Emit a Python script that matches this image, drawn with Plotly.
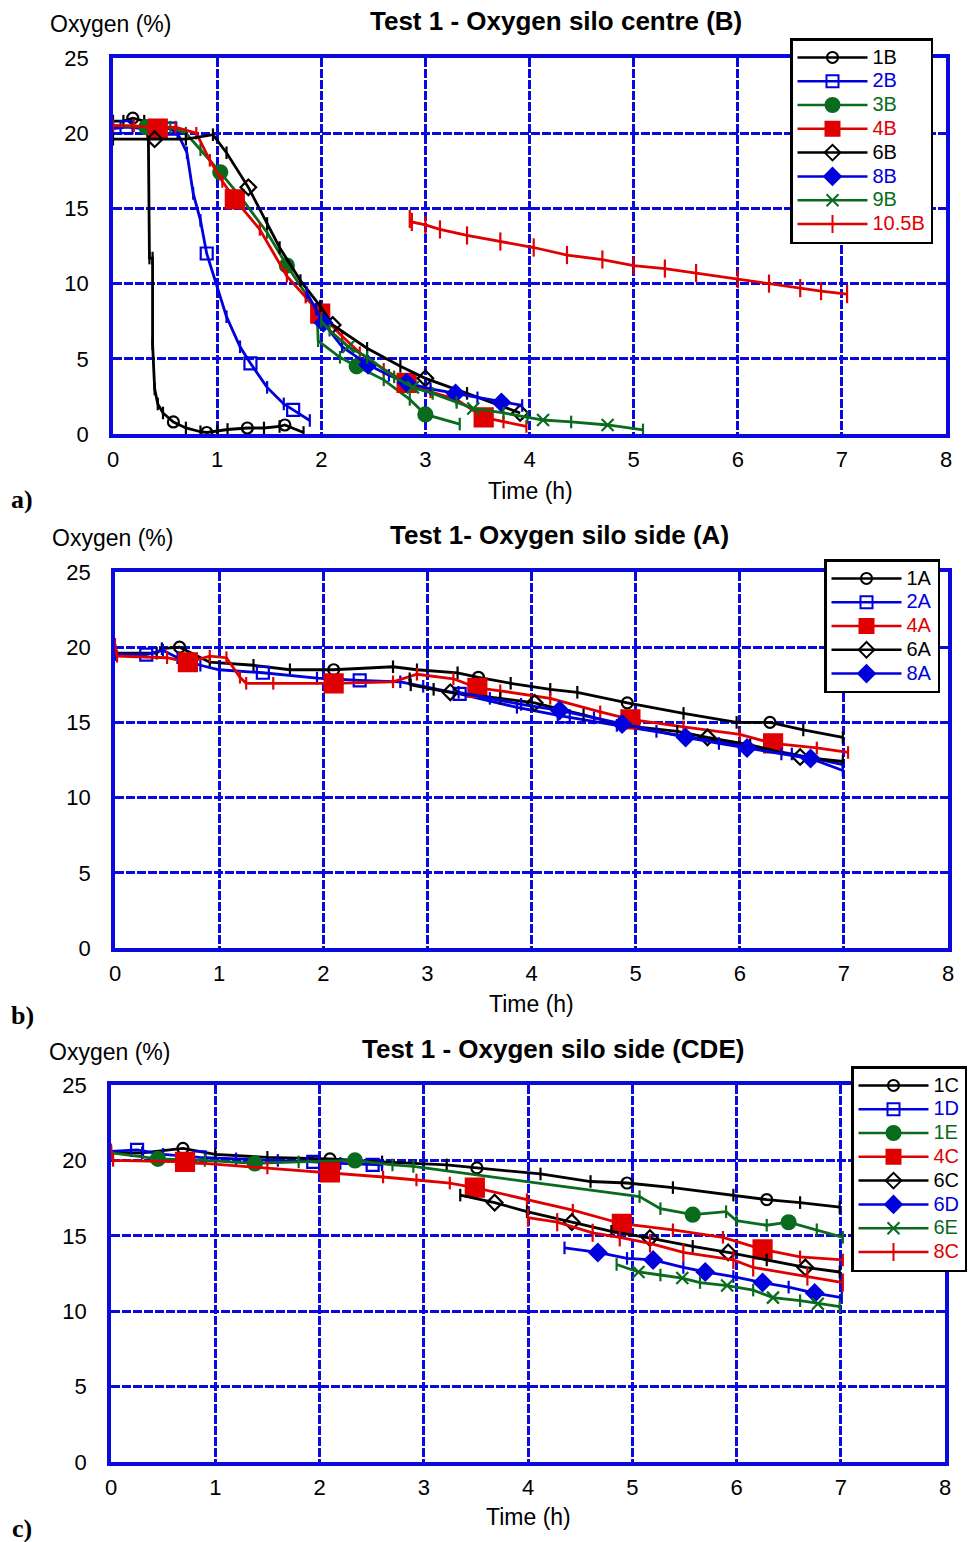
import plotly.graph_objects as go

W, H = 975, 1542

BLACK = "#000000"
BLUE = "#0000dc"
GREEN = "#0a6b1e"
RED = "#e00000"
GRID = "#0a0ae0"

# ---------------- Test 1 - silo centre (B) ----------------
t_1B = [0, 0.1, 0.19, 0.3, 0.34, 0.35, 0.38, 0.38, 0.40, 0.43, 0.48, 0.58, 0.7, 0.84, 0.9, 1.0, 1.1, 1.29, 1.45, 1.6, 1.65, 1.83]
o_1B = [20.8, 20.8, 21.0, 20.8, 19.6, 11.7, 11.7, 6.0, 3.0, 2.0, 1.4, 0.8, 0.4, 0.15, 0.1, 0.2, 0.3, 0.4, 0.4, 0.5, 0.6, 0.1]
t_2B = [0, 0.13, 0.3, 0.55, 0.62, 0.71, 0.77, 0.84, 0.9, 1.0, 1.09, 1.22, 1.32, 1.48, 1.64, 1.73, 1.89]
o_2B = [20.3, 20.4, 20.3, 20.3, 20.0, 18.7, 16.0, 14.2, 12.0, 9.8, 7.8, 5.8, 4.7, 3.1, 2.0, 1.6, 0.9]
t_3B = [0, 0.32, 0.55, 0.7, 0.84, 1.03, 1.22, 1.48, 1.67, 1.86, 1.96, 1.97, 2.18, 2.34, 2.6, 2.85, 3.0, 3.33]
o_3B = [20.5, 20.4, 20.4, 20.0, 18.9, 17.4, 15.8, 13.4, 11.2, 9.2, 8.2, 6.2, 5.1, 4.5, 3.6, 2.3, 1.3, 0.66]
t_4B = [0, 0.2, 0.43, 0.6, 0.8, 0.93, 1.05, 1.17, 1.41, 1.67, 1.85, 1.99, 2.2, 2.37, 2.6, 2.82, 3.05, 3.3, 3.56, 3.75, 3.97]
o_4B = [20.5, 20.5, 20.3, 20.4, 20.0, 18.2, 16.8, 15.6, 13.6, 10.5, 9.1, 8.0, 6.5, 5.4, 4.3, 3.4, 2.8, 2.3, 1.1, 0.8, 0.5]
t_6B = [0, 0.4, 0.7, 0.96, 1.09, 1.3, 1.48, 1.6, 1.8, 1.99, 2.11, 2.44, 2.76, 3.0, 3.4, 3.91]
o_6B = [19.6, 19.6, 19.6, 19.9, 18.7, 16.4, 14.0, 12.4, 10.2, 8.5, 7.25, 5.7, 4.5, 3.7, 2.7, 1.4]
t_8B = [1.86, 1.95, 2.02, 2.2, 2.45, 2.65, 2.82, 3.05, 3.29, 3.5, 3.73, 3.93]
o_8B = [9.4, 8.3, 7.4, 5.8, 4.6, 3.9, 3.4, 3.0, 2.7, 2.4, 2.1, 1.9]
t_9B = [2.0, 2.08, 2.26, 2.44, 2.7, 2.88, 3.07, 3.3, 3.46, 3.75, 3.98, 4.13, 4.4, 4.75, 5.09]
o_9B = [7.5, 6.9, 5.8, 5.1, 3.8, 3.1, 2.7, 2.1, 1.7, 1.4, 1.1, 0.93, 0.8, 0.6, 0.27]
t_10_5B = [2.85, 2.87, 3.0, 3.14, 3.4, 3.72, 4.04, 4.36, 4.7, 5.0, 5.3, 5.6, 6.0, 6.3, 6.6, 6.8, 7.05]
o_10_5B = [14.3, 14.1, 13.9, 13.6, 13.2, 12.8, 12.4, 11.9, 11.6, 11.2, 11.0, 10.7, 10.3, 10.0, 9.7, 9.5, 9.3]

# ---------------- Test 1 - silo side (A) ----------------
t_1A = [0, 0.4, 0.45, 0.62, 0.91, 1.33, 1.68, 2.1, 2.67, 2.9, 3.29, 3.49, 3.8, 4.18, 4.44, 4.92, 5.46, 5.97, 6.29, 6.61, 6.99]
o_1A = [19.6, 19.6, 19.9, 20.0, 19.0, 18.8, 18.5, 18.5, 18.7, 18.5, 18.3, 18.0, 17.6, 17.2, 17.0, 16.3, 15.6, 15.0, 15.0, 14.5, 14.0]
t_2A = [0, 0.3, 0.46, 0.6, 0.82, 1.0, 1.42, 1.94, 2.35, 2.74, 2.96, 3.31, 3.86, 4.31, 4.82, 5.46, 6.0, 6.5, 6.99]
o_2A = [19.5, 19.5, 19.8, 19.3, 18.8, 18.5, 18.3, 17.95, 17.8, 17.7, 17.4, 16.9, 16.0, 15.4, 14.8, 14.1, 13.5, 12.9, 12.2]
t_4A = [0, 0.02, 0.5, 0.7, 0.91, 1.07, 1.2, 1.26, 1.52, 2.1, 2.67, 2.9, 3.25, 3.48, 3.7, 4.18, 4.66, 4.95, 5.46, 6.0, 6.32, 6.74, 7.04]
o_4A = [20.2, 19.4, 19.3, 19.0, 19.4, 19.3, 18.0, 17.6, 17.6, 17.6, 17.7, 18.2, 17.9, 17.3, 17.1, 16.6, 15.7, 15.2, 14.7, 14.2, 13.6, 13.3, 13.0]
t_6A = [2.83, 2.84, 3.06, 3.22, 3.7, 4.03, 4.5, 4.88, 5.4, 5.69, 6.1, 6.58, 6.99]
o_6A = [17.9, 17.5, 17.2, 17.0, 16.6, 16.3, 15.5, 14.8, 14.4, 14.0, 13.5, 12.7, 12.4]
t_8A = [3.3, 3.6, 3.9, 4.27, 4.6, 4.87, 5.2, 5.48, 5.8, 6.07, 6.4, 6.68, 6.99]
o_8A = [17.0, 16.6, 16.2, 15.8, 15.3, 14.9, 14.4, 14.0, 13.6, 13.3, 12.9, 12.6, 11.8]

# ---------------- Test 1 - silo side (CDE) ----------------
t_1C = [0, 0.3, 0.69, 1.0, 1.5, 2.1, 2.6, 3.22, 3.51, 4.12, 4.6, 4.95, 5.39, 5.97, 6.29, 6.61, 6.99]
o_1C = [20.5, 20.5, 20.8, 20.4, 20.2, 20.1, 19.9, 19.7, 19.5, 19.1, 18.6, 18.5, 18.2, 17.7, 17.4, 17.2, 16.9]
t_1D = [0, 0.25, 0.5, 0.85, 1.2, 1.6, 1.94, 2.2, 2.51, 2.6]
o_1D = [20.6, 20.7, 20.4, 20.2, 20.1, 20.0, 19.9, 19.8, 19.7, 19.7]
t_1E = [0, 0.45, 0.9, 1.38, 1.8, 2.34, 2.7, 2.9, 5.07, 5.27, 5.58, 5.9, 6.0, 6.29, 6.5, 6.77, 7.02]
o_1E = [20.5, 20.1, 20.0, 19.8, 19.9, 20.0, 19.7, 19.6, 17.6, 16.8, 16.4, 16.6, 16.0, 15.7, 15.9, 15.4, 14.9]
t_4C = [0, 0.02, 0.71, 1.5, 2.1, 2.61, 2.93, 3.25, 3.49, 3.99, 4.43, 4.9, 5.39, 5.87, 6.25, 6.61, 7.02]
o_4C = [20.7, 20.0, 19.9, 19.5, 19.2, 18.9, 18.7, 18.5, 18.2, 17.4, 16.7, 15.8, 15.4, 14.9, 14.1, 13.6, 13.4]
t_6C = [3.35, 3.68, 3.99, 4.42, 4.8, 5.17, 5.58, 5.92, 6.29, 6.66, 6.99]
o_6C = [17.7, 17.2, 16.6, 15.9, 15.3, 14.85, 14.3, 13.9, 13.4, 12.9, 12.6]
t_6D = [4.35, 4.67, 4.95, 5.2, 5.49, 5.7, 5.97, 6.25, 6.5, 6.75, 7.01]
o_6D = [14.2, 13.9, 13.5, 13.4, 12.9, 12.6, 12.3, 11.9, 11.6, 11.2, 10.9]
t_6E = [4.85, 5.06, 5.27, 5.48, 5.65, 5.91, 6.16, 6.35, 6.61, 6.78, 6.99]
o_6E = [13.1, 12.6, 12.4, 12.2, 11.9, 11.7, 11.4, 10.9, 10.7, 10.5, 10.3]
t_8C = [4.0, 4.28, 4.62, 4.88, 5.17, 5.49, 5.97, 6.16, 6.68, 7.02]
o_8C = [16.2, 15.9, 15.2, 14.9, 14.5, 13.9, 13.4, 12.9, 12.3, 11.9]

x_ticks = [0, 1, 2, 3, 4, 5, 6, 7, 8]
y_ticks = [0, 5, 10, 15, 20, 25]

# series: label, times, values, colour, symbol, size, indices carrying the big symbol
panels = [
    dict(
        title="Test 1 - Oxygen silo centre (B)", tag="a)",
        box=(113, 946, 58, 434), legend_pos=(790, 38), title_pos=(556, 21),
        ylab_pos=(110, 24), xlab_pos=(530, 491), tag_pos=(22, 500),
        series=[
            ("1B", t_1B, o_1B, BLACK, "circle-open", 11, [2, 11, 14, 17, 20]),
            ("2B", t_2B, o_2B, BLUE, "square-open", 12, [1, 3, 8, 12, 15]),
            ("3B", t_3B, o_3B, GREEN, "circle", 14, [1, 5, 8, 13, 16]),
            ("4B", t_4B, o_4B, RED, "square", 18, [2, 7, 11, 15, 18]),
            ("6B", t_6B, o_6B, BLACK, "diamond-open", 12, [1, 5, 10, 13, 15]),
            ("8B", t_8B, o_8B, BLUE, "diamond", 13, [2, 4, 6, 8, 10]),
            ("9B", t_9B, o_9B, GREEN, "x-thin-open", 12, [2, 5, 8, 11, 13]),
            ("10.5B", t_10_5B, o_10_5B, RED, "line-ns-open", 13, None),
        ],
    ),
    dict(
        title="Test 1- Oxygen silo side (A)", tag="b)",
        box=(115, 948, 572, 948), legend_pos=(824, 559), title_pos=(559, 535),
        ylab_pos=(112, 538), xlab_pos=(531, 1004), tag_pos=(22, 1015),
        series=[
            ("1A", t_1A, o_1A, BLACK, "circle-open", 11, [3, 7, 11, 15, 18]),
            ("2A", t_2A, o_2A, BLUE, "square-open", 12, [1, 6, 8, 11, 13]),
            ("4A", t_4A, o_4A, RED, "square", 18, [3, 9, 13, 17, 20]),
            ("6A", t_6A, o_6A, BLACK, "diamond-open", 12, [3, 5, 9, 11]),
            ("8A", t_8A, o_8A, BLUE, "diamond", 13, [3, 5, 7, 9, 11]),
        ],
    ),
    dict(
        title="Test 1 - Oxygen silo side (CDE)", tag="c)",
        box=(111, 945, 1085, 1462), legend_pos=(851, 1066), title_pos=(553, 1049),
        ylab_pos=(109, 1052), xlab_pos=(528, 1517), tag_pos=(22, 1528),
        series=[
            ("1C", t_1C, o_1C, BLACK, "circle-open", 11, [2, 5, 8, 11, 14]),
            ("1D", t_1D, o_1D, BLUE, "square-open", 12, [1, 3, 6, 8]),
            ("1E", t_1E, o_1E, GREEN, "circle", 14, [1, 3, 5, 10, 14]),
            ("4C", t_4C, o_4C, RED, "square", 18, [2, 4, 8, 11, 14]),
            ("6C", t_6C, o_6C, BLACK, "diamond-open", 12, [1, 3, 5, 7, 9]),
            ("6D", t_6D, o_6D, BLUE, "diamond", 13, [1, 3, 5, 7, 9]),
            ("6E", t_6E, o_6E, GREEN, "x-thin-open", 12, [1, 3, 5, 7, 9]),
            ("8C", t_8C, o_8C, RED, "line-ns-open", 13, None),
        ],
    ),
]

SANS = "Liberation Sans, Arial, sans-serif"
SERIF = "Liberation Serif, Times New Roman, serif"


def px_x(px):
    return px / W


def px_y(py):
    return 1 - py / H


fig = go.Figure()
annotations = []
layout_axes = {}

for k, p in enumerate(panels, start=1):
    sfx = "" if k == 1 else str(k)
    xa, ya = "x" + sfx, "y" + sfx
    legend_id = "legend" + sfx
    x0, x1, y0, y1 = p["box"]

    for label, t, o, col, sym, size, marks in p["series"]:
        n = len(t)
        if marks is None:
            symbols = [sym] * n
            sizes = [size] * n
        else:
            symbols = [sym if i in marks else "line-ns-open" for i in range(n)]
            sizes = [size if i in marks else 9 for i in range(n)]
        fig.add_trace(go.Scatter(
            x=t, y=o, mode="lines+markers", xaxis=xa, yaxis=ya,
            line=dict(color=col, width=2.8),
            marker=dict(symbol=symbols, size=sizes, color=col, opacity=1,
                        line=dict(color=col, width=2.2)),
            showlegend=False, hoverinfo="skip",
        ))
        # legend entry
        fig.add_trace(go.Scatter(
            x=[None], y=[None], mode="lines+markers", xaxis=xa, yaxis=ya,
            line=dict(color=col, width=2.5),
            marker=dict(symbol=sym, size=min(size, 14), color=col, opacity=1,
                        line=dict(color=col, width=2)),
            name=f'<span style="color:{col};font-size:20px">{label}</span>',
            legend=legend_id, showlegend=True,
        ))

    axis_common = dict(
        showgrid=True, gridcolor=GRID, gridwidth=2.6, griddash="9px,2px",
        showline=True, mirror=True, linecolor=GRID, linewidth=3.5,
        zeroline=False, ticks="", fixedrange=True,
        tickfont=dict(family=SANS, size=22, color="black"),
    )
    layout_axes["xaxis" + sfx] = dict(
        axis_common, domain=[px_x(x0), px_x(x1)], range=[0, 8],
        tickvals=x_ticks, ticktext=[str(v) for v in x_ticks],
        anchor=ya, ticklabelstandoff=3,
    )
    layout_axes["yaxis" + sfx] = dict(
        axis_common, domain=[px_y(y1), px_y(y0)], range=[0, 25],
        tickvals=y_ticks, ticktext=[str(v) for v in y_ticks],
        anchor=xa, ticklabelstandoff=16,
    )

    lx, ly = p["legend_pos"]
    layout_axes[legend_id] = dict(
        x=px_x(lx), y=px_y(ly), xanchor="left", yanchor="top",
        xref="paper", yref="paper",
        bgcolor="white", bordercolor="black", borderwidth=2.5,
        font=dict(family=SANS, size=16, color="black"),
        itemwidth=70, tracegroupgap=0, traceorder="normal",
    )

    tx, ty = p["title_pos"]
    annotations.append(dict(
        x=px_x(tx), y=px_y(ty), xref="paper", yref="paper", showarrow=False,
        text=f"<b>{p['title']}</b>", xanchor="center", yanchor="middle",
        font=dict(family=SANS, size=26, color="black"),
    ))
    yx, yy = p["ylab_pos"]
    annotations.append(dict(
        x=px_x(yx), y=px_y(yy), xref="paper", yref="paper", showarrow=False,
        text="Oxygen (%)", xanchor="center", yanchor="middle",
        font=dict(family=SANS, size=23, color="black"),
    ))
    xx, xy = p["xlab_pos"]
    annotations.append(dict(
        x=px_x(xx), y=px_y(xy), xref="paper", yref="paper", showarrow=False,
        text="Time (h)", xanchor="center", yanchor="middle",
        font=dict(family=SANS, size=23, color="black"),
    ))
    gx, gy = p["tag_pos"]
    annotations.append(dict(
        x=px_x(gx), y=px_y(gy), xref="paper", yref="paper", showarrow=False,
        text=f"<b>{p['tag']}</b>", xanchor="center", yanchor="middle",
        font=dict(family=SERIF, size=26, color="black"),
    ))

fig.update_layout(
    width=W, height=H,
    margin=dict(l=0, r=0, t=0, b=0, autoexpand=False),
    paper_bgcolor="white", plot_bgcolor="white",
    annotations=annotations,
    **layout_axes,
)

fig.write_html("out.html")
